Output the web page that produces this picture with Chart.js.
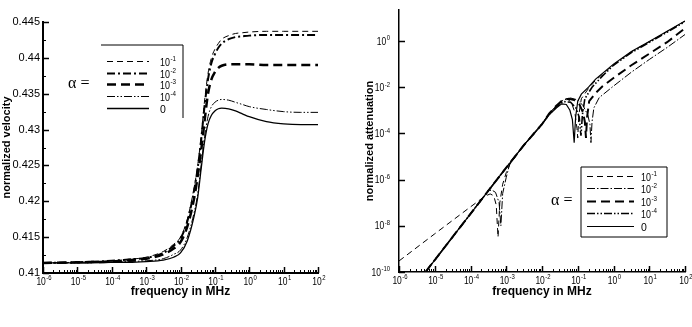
<!DOCTYPE html>
<html>
<head>
<meta charset="utf-8">
<script src="https://cdn.jsdelivr.net/npm/chart.js@4.4.0/dist/chart.umd.min.js"></script>
<style>
  html, body { margin: 0; padding: 0; background: #fff; }
  #wrap { position: relative; width: 692px; height: 327px; overflow: hidden; }
  canvas { position: absolute; top: 0; }
  #velChart { left: 0; }
  #attChart { left: 336px; }
</style>
</head>
<body>
<div id="wrap">
  <canvas id="velChart" width="346" height="327"></canvas>
  <canvas id="attChart" width="356" height="327"></canvas>
</div>
<script>
// ---- shared labels ----
const alphaLabels = ['10⁻¹', '10⁻²', '10⁻³', '10⁻⁴', '0'];
const alphaExp = ['-1', '-2', '-3', '-4', null];
const freqTicks = [1e-6, 1e-5, 1e-4, 1e-3, 1e-2, 1e-1, 1, 10, 100];
const freqTickExp = ['-6', '-5', '-4', '-3', '-2', '-1', '0', '1', '2'];

// ---- left panel: normalized velocity ----
const velTicks = [0.41, 0.415, 0.42, 0.425, 0.43, 0.435, 0.44, 0.445];
const velTickLabels = ['0.41', '0.415', '0.42', '0.425', '0.43', '0.435', '0.44', '0.445'];
const velMinor = [0.4125, 0.4175, 0.4225, 0.4275, 0.4325, 0.4375, 0.4425];
const velFreq = [1e-6, 1e-5, 1e-4, 3.16e-4, 1e-3, 3.16e-3, 6.31e-3, 1e-2, 1.58e-2, 2.51e-2, 3.16e-2,
  3.98e-2, 5.01e-2, 6.31e-2, 7.94e-2, 0.1, 0.126, 0.158, 0.251, 0.398, 0.631, 1, 3.16, 10, 31.6, 100];
const velA1 = [0.4114, 0.4115, 0.4117, 0.4119, 0.4122, 0.4130, 0.4140, 0.4150, 0.4175, 0.4220, 0.4250,
  0.4290, 0.4340, 0.4378, 0.4400, 0.4412, 0.4420, 0.4426, 0.4431, 0.4434, 0.4435, 0.4436, 0.4437, 0.4437, 0.4437, 0.4437];
const velA2 = [0.4114, 0.4115, 0.4117, 0.4119, 0.4121, 0.4128, 0.4138, 0.4148, 0.4172, 0.4216, 0.4246,
  0.4285, 0.4333, 0.4370, 0.4393, 0.4405, 0.4414, 0.4420, 0.4426, 0.4429, 0.4430, 0.4431, 0.4432, 0.4432, 0.4432, 0.4432];
const velA3 = [0.4114, 0.4115, 0.4116, 0.4118, 0.4120, 0.4126, 0.4134, 0.4143, 0.4165, 0.4205, 0.4235,
  0.4270, 0.4312, 0.4350, 0.4370, 0.4380, 0.4386, 0.4389, 0.4391, 0.4391, 0.4391, 0.4391, 0.4390, 0.4390, 0.4390, 0.4390];
const velA4 = [0.4114, 0.4114, 0.4115, 0.4116, 0.4117, 0.4120, 0.4126, 0.4132, 0.4150, 0.4185, 0.4210,
  0.4250, 0.4290, 0.4318, 0.4332, 0.4338, 0.4341, 0.4342, 0.4341, 0.4338, 0.4335, 0.4332, 0.4328, 0.4325, 0.4324, 0.4324];
const velA0 = [0.4114, 0.4114, 0.4115, 0.4115, 0.4116, 0.4118, 0.4122, 0.4128, 0.4145, 0.4180, 0.4205,
  0.4245, 0.4283, 0.4308, 0.4320, 0.4326, 0.4329, 0.4330, 0.4329, 0.4326, 0.4322, 0.4318, 0.4311, 0.4308, 0.4307, 0.4307];

// ---- right panel: normalized attenuation (each curve has its own freq points) ----
const attTicks = [1e-10, 1e-8, 1e-6, 1e-4, 1e-2, 1];
const attTickExp = ['-10', '-8', '-6', '-4', '-2', '0'];

const attA1Freq = [1e-6, 1e-5, 1e-4, 2.51e-4, 3.55e-4, 4.47e-4, 5.25e-4, 5.89e-4, 6.61e-4, 7.94e-4, 1e-3,
  1.26e-3, 3.16e-3, 0.01, 0.0158, 0.0251, 0.0355, 0.0501, 0.0661, 0.0832, 0.0955, 0.1, 0.107, 0.126, 0.2, 0.316, 1, 3.16, 10, 31.6, 100];
const attA1 = [3.0e-10, 4.5e-9, 6.6e-8, 1.9e-7, 2.4e-7, 2.0e-7, 7.9e-8, 3.2e-9, 1e-7, 6.3e-7, 2.0e-6,
  4.5e-6, 3.2e-5, 2.6e-4, 7.1e-4, 1.58e-3, 2.82e-3, 3.16e-3, 2.24e-3, 7.9e-4, 1.58e-4, 6.3e-5, 6.3e-4, 3.16e-3, 8.9e-3, 2.0e-2, 9.5e-2, 0.339, 0.933, 2.57, 7.24];

const attA2Freq = [3.16e-6, 1e-5, 3.16e-5, 1e-4, 3.16e-4, 3.98e-4, 5.01e-4, 6.31e-4, 7.08e-4, 7.94e-4, 1e-3,
  1.26e-3, 3.16e-3, 0.01, 0.0158, 0.0251, 0.0398, 0.0631, 0.1, 0.141, 0.191, 0.219, 0.234, 0.251, 0.282, 0.398, 1, 3.16, 10, 31.6, 100];
const attA2 = [3.3e-11, 3.3e-10, 3.3e-9, 3.3e-8, 3.3e-7, 3.5e-7, 2.8e-7, 1e-7, 1e-8, 2.5e-7, 1.26e-6,
  5e-6, 3.2e-5, 2.5e-4, 7.1e-4, 1.58e-3, 2.82e-3, 3.4e-3, 2.82e-3, 1.58e-3, 6.3e-4, 2.5e-4, 4e-5, 3.16e-4, 1.26e-3, 3.55e-3, 1.12e-2, 4.47e-2, 0.158, 0.525, 1.91];

const attA3Freq = [3.16e-6, 1e-5, 3.16e-5, 1e-4, 3.16e-4, 1e-3, 3.16e-3, 0.01, 0.0158, 0.0251, 0.0398, 0.0562,
  0.0794, 0.112, 0.141, 0.158, 0.170, 0.182, 0.209, 0.316, 0.501, 1, 3.16, 10, 31.6, 100];
const attA3 = [3.3e-11, 3.3e-10, 3.3e-9, 3.3e-8, 3.3e-7, 3.3e-6, 3.2e-5, 2.5e-4, 7.1e-4, 1.58e-3, 2.82e-3, 3.16e-3,
  2.82e-3, 1.78e-3, 7.9e-4, 3.16e-4, 6.3e-5, 5.0e-4, 2.5e-3, 5.6e-3, 1.12e-2, 2.5e-2, 8.9e-2, 0.282, 0.891, 3.55];

const attA4Freq = [3.16e-6, 1e-5, 3.16e-5, 1e-4, 3.16e-4, 1e-3, 3.16e-3, 0.01, 0.0158, 0.0251, 0.0398, 0.0631,
  0.0891, 0.110, 0.123, 0.135, 0.158, 0.251, 0.501, 1, 3.16, 10, 31.6, 100];
const attA4 = [3.3e-11, 3.3e-10, 3.3e-9, 3.3e-8, 3.3e-7, 3.3e-6, 3.2e-5, 2.5e-4, 6.6e-4, 1.41e-3, 2.4e-3, 2.24e-3,
  1.26e-3, 5.0e-4, 7.9e-5, 6.3e-4, 3.16e-3, 1e-2, 3.16e-2, 8.9e-2, 0.316, 0.871, 2.40, 6.92];

const attA0Freq = [3.16e-6, 1e-5, 3.16e-5, 1e-4, 3.16e-4, 1e-3, 3.16e-3, 0.01, 0.0158, 0.0251, 0.0355, 0.0479,
  0.0603, 0.0708, 0.0794, 0.0871, 0.1, 0.126, 0.2, 0.316, 1, 3.16, 10, 31.6, 100];
const attA0 = [3.3e-11, 3.3e-10, 3.3e-9, 3.3e-8, 3.3e-7, 3.3e-6, 3.2e-5, 2.5e-4, 6.3e-4, 1.26e-3, 1.9e-3, 1.78e-3,
  1.0e-3, 4.0e-4, 4.0e-5, 5.0e-4, 2.5e-3, 5.0e-3, 1.0e-2, 2.24e-2, 0.1, 0.355, 0.955, 2.63, 7.41];

// line styles, in legend order 10^-1 .. 0
const velStyles = [
  { dash: [6, 4], width: 1 },
  { dash: [8, 3, 2, 3], width: 2 },
  { dash: [9, 5], width: 2.5 },
  { dash: [8, 2, 1.5, 2, 1.5, 2], width: 1 },
  { dash: [], width: 1.3 },
];
const attStyles = [
  { dash: [6, 4], width: 1 },
  { dash: [8, 2, 1.5, 2], width: 1 },
  { dash: [9, 5], width: 2 },
  { dash: [8, 2, 1.5, 2, 1.5, 2], width: 1.6 },
  { dash: [], width: 1.2 },
];

const FONT = 'Arial, "Liberation Sans", "DejaVu Sans", sans-serif';

function pts(xs, ys) {
  return xs.map((x, i) => ({ x: x, y: ys[i] }));
}

function makeSets(series, styles, extra) {
  return series.map((s, i) => Object.assign({
    label: alphaLabels[i],
    data: s,
    borderColor: '#000',
    borderWidth: styles[i].width,
    borderDash: styles[i].dash,
    pointRadius: 0,
    showLine: true,
    fill: false,
  }, extra));
}

// "10" with a small raised exponent, slightly condensed like the original bitmap font
function drawPow(ctx, exp, x, y, align, size) {
  const sq = 0.85;
  const bs = size, es = size * 0.7;
  ctx.font = bs + 'px ' + FONT;
  const bw = ctx.measureText('10').width * sq;
  ctx.font = es + 'px ' + FONT;
  const ew = exp === null ? 0 : ctx.measureText(exp).width * sq;
  const w = bw + ew + 0.5;
  let x0 = x;
  if (align === 'center') x0 = x - w / 2;
  if (align === 'right') x0 = x - w;
  ctx.save();
  ctx.translate(x0, y);
  ctx.scale(sq, 1);
  ctx.font = bs + 'px ' + FONT;
  ctx.fillText('10', 0, 0);
  ctx.font = es + 'px ' + FONT;
  ctx.fillText(exp, (bw + 0.5) / sq, -bs * 0.42);
  ctx.restore();
}

// ticks drawn inward from the axis lines, like the original plot
const inwardTicks = {
  id: 'inwardTicks',
  afterDraw(chart, args, o) {
    const ctx = chart.ctx;
    const xs = chart.scales.x, ys = chart.scales.y;
    const { left, bottom } = chart.chartArea;
    ctx.save();
    ctx.strokeStyle = '#000';
    ctx.setLineDash([]);
    const line = (x1, y1, x2, y2, w) => {
      ctx.lineWidth = w;
      ctx.beginPath(); ctx.moveTo(x1, y1); ctx.lineTo(x2, y2); ctx.stroke();
    };
    freqTicks.forEach((t, k) => {
      const px = Math.round(xs.getPixelForValue(t)) + 0.5;
      line(px, bottom, px, bottom - 6, 1.5);
      if (k < freqTicks.length - 1) {
        for (let m = 2; m <= 9; m++) {
          const mx = Math.round(xs.getPixelForValue(t * m)) + 0.5;
          line(mx, bottom, mx, bottom - 3, 1);
        }
      }
    });
    o.yMajor.forEach(t => {
      const py = Math.round(ys.getPixelForValue(t)) + 0.5;
      line(left, py, left + 6, py, 1.5);
    });
    (o.yMinor || []).forEach(t => {
      const py = Math.round(ys.getPixelForValue(t)) + 0.5;
      line(left, py, left + 3, py, 1);
    });
    ctx.restore();
  }
};

// power-of-ten tick labels on the log axes
const expLabels = {
  id: 'expLabels',
  afterDraw(chart, args, o) {
    const ctx = chart.ctx;
    const xs = chart.scales.x, ys = chart.scales.y;
    const { left, bottom } = chart.chartArea;
    ctx.save();
    ctx.fillStyle = '#000';
    ctx.textBaseline = 'alphabetic';
    ctx.textAlign = 'left';
    freqTicks.forEach((t, i) => drawPow(ctx, freqTickExp[i], xs.getPixelForValue(t) + 1, bottom + 11.5, 'center', 10));
    if (o.yTicks) {
      o.yTicks.forEach((t, i) => drawPow(ctx, o.yExp[i], left - 9, ys.getPixelForValue(t) + 3.5, 'right', 10));
    }
    ctx.restore();
  }
};

// alpha legend box
const alphaKey = {
  id: 'alphaKey',
  afterDraw(chart, args, o) {
    const ctx = chart.ctx;
    ctx.save();
    ctx.strokeStyle = '#000';
    ctx.fillStyle = '#000';
    ctx.lineWidth = 1;
    ctx.setLineDash([]);
    ctx.beginPath();
    o.frame.forEach(([x1, y1, x2, y2]) => { ctx.moveTo(x1, y1); ctx.lineTo(x2, y2); });
    ctx.stroke();
    ctx.textBaseline = 'middle';
    ctx.font = '16px "Liberation Serif", "Times New Roman", serif';
    ctx.fillText('α =', o.alphaX, o.alphaY);
    ctx.textBaseline = 'alphabetic';
    chart.data.datasets.forEach((ds, i) => {
      const y = o.rows[i] + 0.5;
      ctx.setLineDash(ds.borderDash);
      ctx.lineWidth = ds.borderWidth;
      ctx.beginPath(); ctx.moveTo(o.lineX1, y); ctx.lineTo(o.lineX2, y); ctx.stroke();
      ctx.setLineDash([]);
      if (alphaExp[i] === null) {
        ctx.font = '10.5px ' + FONT;
        ctx.fillText('0', o.textX, y + 4);
      } else {
        drawPow(ctx, alphaExp[i], o.textX, y + 4, 'left', 10.5);
      }
    });
    ctx.restore();
  }
};

function axes(yOpts, yWidth, xHeight, yTitlePad, yTitle, axisW) {
  return {
    x: {
      type: 'logarithmic',
      min: 1e-6, max: 100,
      afterBuildTicks: (s) => { s.ticks = freqTicks.map(v => ({ value: v })); },
      afterFit: (s) => { s.height = xHeight; },
      ticks: { display: false },
      grid: { display: false, drawTicks: false, tickLength: 0 },
      border: { display: true, color: '#000', width: axisW },
      title: {
        display: true, text: 'frequency in MHz', color: '#000',
        font: { family: FONT, size: 12, weight: 'bold' },
        padding: { top: 0, bottom: 28 },
      },
    },
    y: Object.assign({
      afterFit: (s) => { s.width = yWidth; },
      grid: { display: false, drawTicks: false, tickLength: 0 },
      border: { display: true, color: '#000', width: axisW },
      title: {
        display: true, text: yTitle, color: '#000',
        font: { family: FONT, size: 11, weight: 'bold' },
        padding: { top: yTitlePad, bottom: 0 },
      },
    }, yOpts),
  };
}

new Chart(document.getElementById('velChart'), {
  type: 'scatter',
  data: {
    datasets: makeSets([pts(velFreq, velA1), pts(velFreq, velA2), pts(velFreq, velA3),
      pts(velFreq, velA4), pts(velFreq, velA0)], velStyles, { cubicInterpolationMode: 'monotone' }),
  },
  options: {
    responsive: false,
    animation: false,
    layout: { padding: { left: 0, right: 28, top: 22, bottom: 0 } },
    plugins: {
      legend: { display: false },
      tooltip: { enabled: false },
      inwardTicks: { yMajor: velTicks, yMinor: velMinor },
      expLabels: {},
      alphaKey: {
        frame: [[101, 45, 183, 45], [183, 45, 183, 118]],
        alphaX: 68, alphaY: 84,
        lineX1: 107, lineX2: 149, textX: 160,
        rows: [61, 73, 84, 96, 108],
      },
    },
    scales: axes({
      type: 'linear', min: 0.41, max: 0.445,
      afterBuildTicks: (s) => { s.ticks = velTicks.map(v => ({ value: v })); },
      ticks: {
        padding: 3, color: '#000', font: { family: FONT, size: 11 },
        callback: (v, i) => velTickLabels[i],
      },
    }, 43, 54, 0.5, 'normalized velocity', 2),
  },
  plugins: [inwardTicks, expLabels, alphaKey],
});

// right canvas starts at page x = 336
new Chart(document.getElementById('attChart'), {
  type: 'scatter',
  data: {
    datasets: makeSets([pts(attA1Freq, attA1), pts(attA2Freq, attA2), pts(attA3Freq, attA3),
      pts(attA4Freq, attA4), pts(attA0Freq, attA0)], attStyles, { tension: 0 }),
  },
  options: {
    responsive: false,
    animation: false,
    layout: { padding: { left: 0, right: 7, top: 10, bottom: 0 } },
    plugins: {
      legend: { display: false },
      tooltip: { enabled: false },
      inwardTicks: { yMajor: attTicks },
      expLabels: { yTicks: attTicks, yExp: attTickExp },
      alphaKey: {
        frame: [[245, 167, 331, 167], [331, 167, 331, 237], [331, 237, 245, 237], [245, 237, 245, 167]],
        alphaX: 215, alphaY: 201,
        lineX1: 251, lineX2: 298, textX: 305,
        rows: [176, 188, 201, 213, 226],
      },
    },
    scales: axes({
      type: 'logarithmic', min: 1e-10, max: 22,
      afterBuildTicks: (s) => { s.ticks = attTicks.map(v => ({ value: v })); },
      ticks: { display: false },
    }, 63, 55, 27.5, 'normalized attenuation', 1.5),
  },
  plugins: [inwardTicks, expLabels, alphaKey],
});
</script>
</body>
</html>
